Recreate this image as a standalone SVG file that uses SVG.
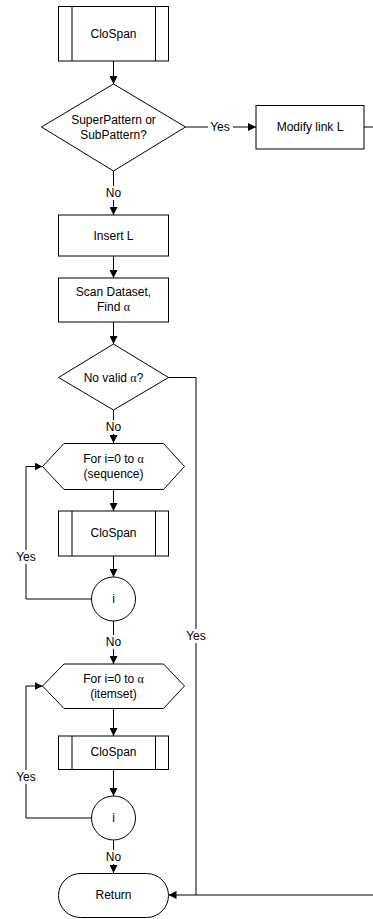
<svg xmlns="http://www.w3.org/2000/svg" width="373" height="919" viewBox="0 0 373 919">
<defs>
<marker id="ah" markerWidth="8" markerHeight="8" refX="8" refY="4" orient="auto" markerUnits="userSpaceOnUse">
<path d="M0,0 L8,4 L0,8 Z" fill="#000"/>
</marker>
<style>
.s{fill:#fff;stroke:#000;stroke-width:1}
.t{font-family:"Liberation Sans",Arial,sans-serif;font-size:12px;fill:#000;text-anchor:middle;dominant-baseline:central}
.g{font-family:"Liberation Serif","Times New Roman",serif}
.c{fill:none;stroke:#000;stroke-width:1}
.lb{fill:#fff;stroke:none}
</style>
</defs>
<rect width="373" height="919" fill="#fff"/>
<g id="connectors">
<path class="c" d="M113.5,61 V84" marker-end="url(#ah)"/>
<path class="c" d="M185.5,127 H256" marker-end="url(#ah)"/>
<path class="c" d="M364,127 H373"/>
<path class="c" d="M113.5,171 V215" marker-end="url(#ah)"/>
<path class="c" d="M113.5,256 V278" marker-end="url(#ah)"/>
<path class="c" d="M113.5,322 V344" marker-end="url(#ah)"/>
<path class="c" d="M168.5,377.5 H196 V895"/>
<path class="c" d="M113.5,410 V443" marker-end="url(#ah)"/>
<path class="c" d="M113.5,489 V511" marker-end="url(#ah)"/>
<path class="c" d="M113.5,556 V577" marker-end="url(#ah)"/>
<path class="c" d="M91.5,599 H26 V466.5 H42.5" marker-end="url(#ah)"/>
<path class="c" d="M113.5,621 V664" marker-end="url(#ah)"/>
<path class="c" d="M113.5,708 V736" marker-end="url(#ah)"/>
<path class="c" d="M113.5,769 V796" marker-end="url(#ah)"/>
<path class="c" d="M91.5,818 H26 V686 H42.5" marker-end="url(#ah)"/>
<path class="c" d="M113.5,840 V873" marker-end="url(#ah)"/>
<path class="c" d="M373,895 H168.5" marker-end="url(#ah)"/>
<rect class="lb" x="208" y="120" width="25" height="14"/>
<text class="t" x="220" y="127">Yes</text>
<rect class="lb" x="105" y="186" width="17" height="14"/>
<text class="t" x="113.5" y="193">No</text>
<rect class="lb" x="105" y="420" width="17" height="14"/>
<text class="t" x="113.5" y="427">No</text>
<rect class="lb" x="105" y="635" width="17" height="14"/>
<text class="t" x="113.5" y="642">No</text>
<rect class="lb" x="105" y="850" width="17" height="14"/>
<text class="t" x="113.5" y="857">No</text>
<rect class="lb" x="184" y="629" width="25" height="14"/>
<text class="t" x="196" y="636">Yes</text>
<rect class="lb" x="14" y="550" width="25" height="14"/>
<text class="t" x="26" y="557">Yes</text>
<rect class="lb" x="14" y="770" width="25" height="14"/>
<text class="t" x="26" y="777">Yes</text>
</g>
<g id="clospan1">
<rect class="s" x="58.5" y="6.5" width="110" height="54.5"/>
<path class="c" d="M72,6.5 V61 M155.5,6.5 V61"/>
<text class="t" x="113.5" y="34">CloSpan</text>
</g>
<g id="decision1">
<path class="s" d="M113.5,84 L185.5,127 L113.5,171 L41.5,127 Z"/>
<text class="t" x="113.5" y="120">SuperPattern or</text>
<text class="t" x="113.5" y="135">SubPattern?</text>
</g>
<g id="modify">
<rect class="s" x="256" y="105.5" width="108" height="43.5"/>
<text class="t" x="310" y="127">Modify link L</text>
</g>
<g id="insert">
<rect class="s" x="58.5" y="215" width="110" height="41"/>
<text class="t" x="113.5" y="235.5">Insert L</text>
</g>
<g id="scan">
<rect class="s" x="58.5" y="278" width="110" height="44"/>
<text class="t" x="113.5" y="292">Scan Dataset,</text>
<text class="t" x="113.5" y="307">Find <tspan class="g">α</tspan></text>
</g>
<g id="decision2">
<path class="s" d="M113.5,344 L168.5,377.5 L113.5,410 L58.5,377.5 Z"/>
<text class="t" x="113.5" y="377.5">No valid <tspan class="g">α</tspan>?</text>
</g>
<g id="loop1">
<path class="s" d="M64,443.5 H163.5 L184.5,466.5 L163.5,489.5 H64 L42.5,466.5 Z"/>
<text class="t" x="113.5" y="459">For i=0 to <tspan class="g">α</tspan></text>
<text class="t" x="113.5" y="474">(sequence)</text>
</g>
<g id="clospan2">
<rect class="s" x="58.5" y="511" width="110" height="45"/>
<path class="c" d="M72,511 V556 M155.5,511 V556"/>
<text class="t" x="113.5" y="533">CloSpan</text>
</g>
<g id="check1">
<circle class="s" cx="113.5" cy="599" r="22"/>
<text class="t" x="113.5" y="599">i</text>
</g>
<g id="loop2">
<path class="s" d="M64,664 H163.5 L184.5,686 L163.5,708.5 H64 L42.5,686 Z"/>
<text class="t" x="113.5" y="679">For i=0 to <tspan class="g">α</tspan></text>
<text class="t" x="113.5" y="693.5">(itemset)</text>
</g>
<g id="clospan3">
<rect class="s" x="58.5" y="736" width="110" height="33.5"/>
<path class="c" d="M72,736 V769.5 M155.5,736 V769.5"/>
<text class="t" x="113.5" y="752">CloSpan</text>
</g>
<g id="check2">
<circle class="s" cx="113.5" cy="818" r="22"/>
<text class="t" x="113.5" y="818">i</text>
</g>
<g id="return">
<rect class="s" x="58.5" y="873.5" width="110" height="44" rx="22" ry="22"/>
<text class="t" x="113.5" y="895">Return</text>
</g>
</svg>
